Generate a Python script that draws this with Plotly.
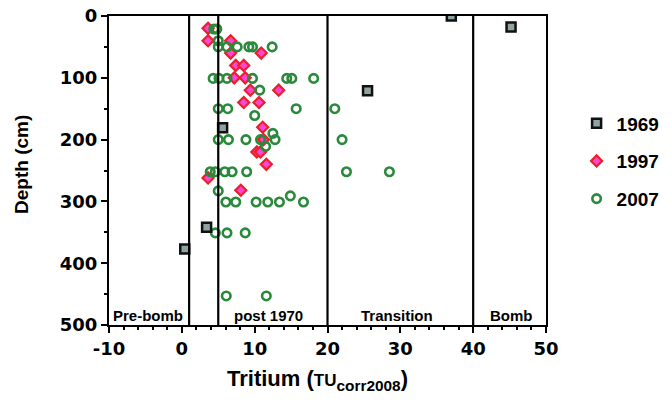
import plotly.graph_objects as go

# ---- data ----
x1969 = [37.0, 45.2, 25.5, 5.6, 3.4, 0.4]
y1969 = [0, 18, 121, 181, 342, 377]

x1997 = [3.6, 3.6, 6.7, 6.7, 10.9, 7.4, 8.5, 7.2, 8.7, 9.4, 13.3, 8.5, 10.6,
         11.1, 11.2, 10.3, 10.8, 11.6, 3.6, 8.1]
y1997 = [20, 40, 40, 60, 60, 80, 80, 100, 100, 120, 120, 140, 140,
         180, 200, 220, 220, 240, 262, 282]

x2007 = [4.4, 4.8, 5.0, 5.0, 6.2, 7.6, 9.2, 9.7, 12.4,
         4.3, 5.1, 6.2, 9.7, 14.4, 15.1, 18.1,
         10.7,
         5.0, 6.3, 15.7, 21.0,
         10.0,
         12.5,
         5.0, 6.4, 8.8, 10.8, 12.8, 22.0,
         11.5,
         3.9, 4.6, 5.9, 6.9, 8.9, 22.6, 28.5,
         5.0,
         14.9,
         6.05, 7.4, 10.2, 11.8, 13.4, 16.7,
         4.6, 6.2, 8.7,
         6.1, 11.6]
y2007 = [21, 21, 40, 50, 50, 50, 50, 50, 50,
         101, 101, 101, 101, 101, 101, 101,
         120,
         150, 150, 150, 150,
         161,
         190,
         200, 200, 200, 200, 200, 200,
         211,
         252, 252, 252, 252, 252, 252, 252,
         283,
         291,
         301, 301, 301, 301, 301, 301,
         351, 351, 351,
         453, 453]

x_tickvals = [-10, 0, 10, 20, 30, 40, 50]
x_ticktext = ["-10", "0", "10", "20", "30", "40", "50"]

boundaries = [1, 5, 20, 40]
region_labels = ["Pre-bomb", "post 1970", "Transition", "Bomb"]
region_centers = [-4.6, 11.9, 29.5, 45.2]

FONT = "Liberation Sans, Arial, sans-serif"
TICKFONT = "DejaVu Sans, sans-serif"

fig = go.Figure()
fig.add_trace(go.Scatter(
    x=x1997, y=y1997, mode="markers", name="1997", legendgroup="b", legendrank=2,
    marker=dict(symbol="diamond", size=8.5, color="#ff45d2",
                line=dict(color="#e8202a", width=2.2))))
fig.add_trace(go.Scatter(
    x=x2007, y=y2007, mode="markers", name="2007", legendgroup="c", legendrank=3,
    marker=dict(symbol="circle-open", size=8.5, color="#2a8a3c",
                line=dict(color="#2a8a3c", width=2.6))))
fig.add_trace(go.Scatter(
    x=x1969, y=y1969, mode="markers", name="1969", legendgroup="a", legendrank=1,
    marker=dict(symbol="square", size=9, color="#8fa3a3",
                line=dict(color="#111111", width=2.5))))

for b in boundaries:
    fig.add_shape(type="line", xref="x", yref="paper", x0=b, x1=b, y0=0, y1=1,
                  line=dict(color="black", width=2.2), layer="above")

for lab, cx in zip(region_labels, region_centers):
    fig.add_annotation(x=cx, y=500, xref="x", yref="y", text=lab, showarrow=False,
                       yanchor="bottom", yshift=-1,
                       font=dict(family=FONT, size=15, color="black", weight="bold"))

# axis titles
fig.add_annotation(x=0.478, y=0, xref="paper", yref="paper", showarrow=False,
                   xanchor="center", yanchor="middle", yshift=-55,
                   text="Tritium (<span style='font-size:17px'>TU</span><sub>corr2008</sub>)",
                   font=dict(family=FONT, size=22, color="black", weight="bold"))
fig.add_annotation(x=0, y=0.518, xref="paper", yref="paper", showarrow=False,
                   xanchor="center", yanchor="middle", xshift=-87, textangle=-90,
                   text="Depth (cm)",
                   font=dict(family=FONT, size=19, color="black", weight="bold"))

fig.update_layout(
    width=672, height=414,
    margin=dict(l=109, r=126, t=16, b=89, autoexpand=False),
    paper_bgcolor="white", plot_bgcolor="white",
    font=dict(family=FONT, color="black"),
    showlegend=True,
    legend=dict(x=1.07, xanchor="left", y=0.714, yanchor="top",
                font=dict(family=FONT, size=19, color="black", weight="bold"),
                tracegroupgap=10, bgcolor="rgba(0,0,0,0)"),
    xaxis=dict(range=[-10, 50], tickvals=x_tickvals, ticktext=x_ticktext,
               showgrid=False, zeroline=False, automargin=False,
               showline=True, linecolor="black", linewidth=2.2, mirror=True,
               ticks="outside", ticklen=6, tickwidth=2, tickcolor="black",
               minor=dict(dtick=2, ticks="outside", ticklen=3, tickwidth=2, tickcolor="black"),
               tickfont=dict(family=TICKFONT, size=18, color="black", weight="bold")),
    yaxis=dict(range=[500, 0], dtick=100, showgrid=False, zeroline=False, automargin=False,
               showline=True, linecolor="black", linewidth=2.2, mirror=True,
               ticks="outside", ticklen=6, tickwidth=2, tickcolor="black",
               minor=dict(dtick=50, ticks="outside", ticklen=3, tickwidth=2, tickcolor="black"),
               tickfont=dict(family=TICKFONT, size=18, color="black", weight="bold")),
)

fig.write_html("out.html")
